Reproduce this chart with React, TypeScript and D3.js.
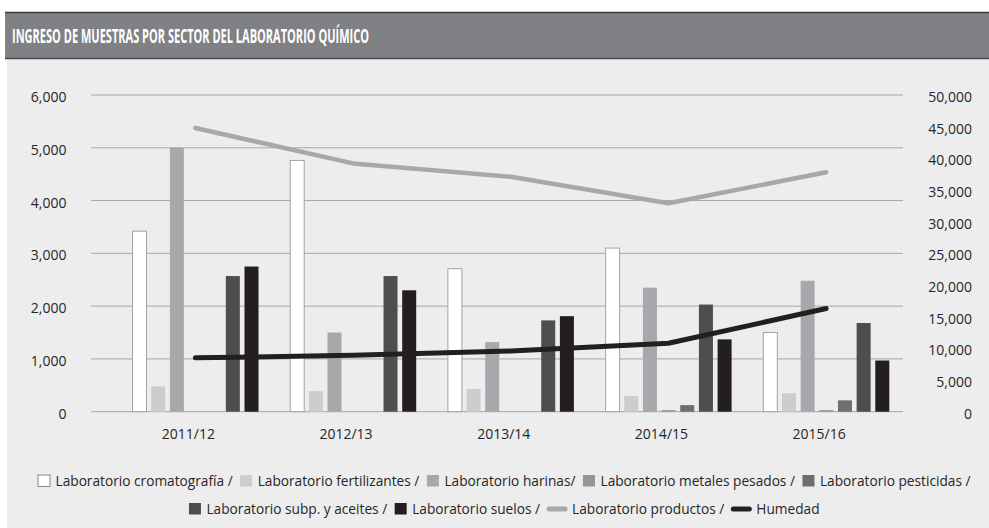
import { useEffect, useRef } from "react";
import * as d3 from "d3";

// Datos
const categories = ["2011/12", "2012/13", "2013/14", "2014/15", "2015/16"];
const cromatografia = [3420, 4760, 2710, 3100, 1500];
const fertilizantes = [480, 390, 430, 300, 350];
const harinas = [5000, 1500, 1320, 2350, 2480];
const metales = [0, 0, 0, 30, 30];
const pesticidas = [0, 0, 0, 125, 215];
const subp = [2570, 2570, 1730, 2030, 1680];
const suelos = [2750, 2300, 1810, 1370, 970];
const productos = [44800, 39200, 37100, 32900, 37800];
const humedad = [8500, 8900, 9600, 10800, 16300];

const leftTicks = [0, 1000, 2000, 3000, 4000, 5000, 6000];
const rightTicks = [0, 5000, 10000, 15000, 20000, 25000, 30000, 35000, 40000, 45000, 50000];

const barSeries = [
  { key: "cromatografia", label: "Laboratorio cromatografía /", values: cromatografia, color: "#ffffff" },
  { key: "fertilizantes", label: "Laboratorio fertilizantes /", values: fertilizantes, color: "#cdcdcf" },
  { key: "harinas", label: "Laboratorio harinas/", values: harinas, color: "#a7a8ab" },
  { key: "metales", label: "Laboratorio metales pesados /", values: metales, color: "#939598" },
  { key: "pesticidas", label: "Laboratorio pesticidas /", values: pesticidas, color: "#6d6e71" },
  { key: "subp", label: "Laboratorio subp. y aceites /", values: subp, color: "#4d4e50" },
  { key: "suelos", label: "Laboratorio suelos /", values: suelos, color: "#231f20" },
];

const lineSeries = [
  { key: "productos", label: "Laboratorio productos /", values: productos, color: "#a7a8aa", width: 4.5 },
  { key: "humedad", label: "Humedad", values: humedad, color: "#231f20", width: 5 },
];

const FONT = "'Open Sans', 'Noto Sans', sans-serif";
const TITLE_FONT = "'Liberation Sans Narrow', 'Open Sans', sans-serif";

export default function App() {
  const svgRef = useRef<SVGSVGElement>(null);

  useEffect(() => {
    if (!svgRef.current) return;
    const svg = d3.select(svgRef.current);
    svg.selectAll("*").remove();

    const W = 989;
    const H = 528;
    const top = 95;
    const bottom = 411.7;

    // Fondo y barra de título
    svg.append("rect").attr("x", 7).attr("y", 59).attr("width", W - 7).attr("height", H - 59).attr("fill", "#ededed");
    svg.append("rect").attr("x", 5).attr("y", 12).attr("width", W - 5).attr("height", 47).attr("fill", "#808184");
    svg.append("line").attr("x1", 5).attr("x2", W).attr("y1", 12.5).attr("y2", 12.5).attr("stroke", "#3c3c3e").attr("stroke-width", 1.5);
    svg.append("line").attr("x1", 5).attr("x2", W).attr("y1", 58.5).attr("y2", 58.5).attr("stroke", "#4a4a4c").attr("stroke-width", 1.5);
    svg.append("text")
      .attr("x", 12)
      .attr("y", 43)
      .attr("fill", "#ffffff")
      .style("font-family", TITLE_FONT)
      .style("font-weight", "bold")
      .style("font-size", "19px")
      .attr("textLength", 357)
      .attr("lengthAdjust", "spacingAndGlyphs")
      .text("INGRESO DE MUESTRAS POR SECTOR DEL LABORATORIO QUÍMICO");

    // Escalas
    const x0 = d3.scaleBand<string>().domain(categories).range([116.5, 905]);
    const x1 = d3
      .scaleBand<string>()
      .domain(barSeries.map((s) => s.key))
      .range([16, 142])
      .paddingInner(0.25);
    const yLeft = d3.scaleLinear().domain([0, 6000]).range([bottom, top]);
    const yRight = d3.scaleLinear().domain([0, 50000]).range([bottom, top]);

    const g = svg.append("g");

    // Rejilla
    g.selectAll(".grid")
      .data(leftTicks)
      .enter()
      .append("line")
      .attr("x1", 91)
      .attr("x2", 903)
      .attr("y1", (d) => yLeft(d))
      .attr("y2", (d) => yLeft(d))
      .attr("stroke", "#a6a6a6")
      .attr("stroke-width", 1);

    // Etiquetas eje izquierdo
    g.selectAll(".ly")
      .data(leftTicks)
      .enter()
      .append("text")
      .attr("x", 66.5)
      .attr("y", (d) => yLeft(d) + 7)
      .attr("text-anchor", "end")
      .attr("fill", "#262626")
      .style("font-family", FONT)
      .style("font-size", "14px")
      .text((d) => d3.format(",")(d));

    // Etiquetas eje derecho
    g.selectAll(".ry")
      .data(rightTicks)
      .enter()
      .append("text")
      .attr("x", 972)
      .attr("y", (d) => yRight(d) + 7)
      .attr("text-anchor", "end")
      .attr("fill", "#262626")
      .style("font-family", FONT)
      .style("font-size", "14px")
      .text((d) => d3.format(",")(d));

    // Etiquetas categorías
    g.selectAll(".cat")
      .data(categories)
      .enter()
      .append("text")
      .attr("x", (d) => (x0(d) || 0) + x0.bandwidth() / 2 - 7)
      .attr("y", 439)
      .attr("text-anchor", "middle")
      .attr("fill", "#262626")
      .style("font-family", FONT)
      .style("font-size", "14px")
      .text((d) => d);

    // Barras
    barSeries.forEach((s) => {
      g.selectAll(`.bar-${s.key}`)
        .data(categories)
        .enter()
        .filter((_, i) => s.values[i] > 0)
        .append("rect")
        .attr("x", (d) => (x0(d) || 0) + (x1(s.key) || 0))
        .attr("y", (d) => yLeft(s.values[categories.indexOf(d)]))
        .attr("width", x1.bandwidth())
        .attr("height", (d) => bottom - yLeft(s.values[categories.indexOf(d)]))
        .attr("fill", s.color)
        .attr("stroke", s.key === "cromatografia" ? "#a3a3a3" : "none")
        .attr("stroke-width", 1);
    });

    // Líneas (eje derecho)
    lineSeries.forEach((s) => {
      const line = d3
        .line<number>()
        .x((_, i) => (x0(categories[i]) || 0) + x0.bandwidth() / 2)
        .y((d) => yRight(d));
      g.append("path")
        .datum(s.values)
        .attr("d", line)
        .attr("fill", "none")
        .attr("stroke", s.color)
        .attr("stroke-width", s.width)
        .attr("stroke-linecap", "round")
        .attr("stroke-linejoin", "round");
    });

    // Leyenda
    type Item = { label: string; color: string; kind: "rect" | "line"; stroke?: string };
    const items: Item[] = [
      ...barSeries.map((s) => ({
        label: s.label,
        color: s.color,
        kind: "rect" as const,
        stroke: s.key === "cromatografia" ? "#8a8a8a" : undefined,
      })),
      ...lineSeries.map((s) => ({ label: s.label, color: s.color, kind: "line" as const })),
    ];
    const rows = [items.slice(0, 5), items.slice(5)];
    const rowY = [481, 509];
    const centerX = 504;

    rows.forEach((row, r) => {
      const rg = svg.append("g");
      let cx = 0;
      row.forEach((it) => {
        const symW = it.kind === "rect" ? 13 : 20;
        if (it.kind === "rect") {
          rg.append("rect")
            .attr("x", cx + 0.5)
            .attr("y", rowY[r] - 6)
            .attr("width", symW - 1)
            .attr("height", 11.5)
            .attr("fill", it.color)
            .attr("stroke", it.stroke || "none");
        } else {
          rg.append("line")
            .attr("x1", cx + 2)
            .attr("x2", cx + symW - 2)
            .attr("y1", rowY[r])
            .attr("y2", rowY[r])
            .attr("stroke", it.color)
            .attr("stroke-width", 5)
            .attr("stroke-linecap", "round");
        }
        const t = rg
          .append("text")
          .attr("x", cx + symW + 5)
          .attr("y", rowY[r] + 5)
          .attr("fill", "#262626")
          .style("font-family", FONT)
          .style("font-size", "13.7px")
          .text(it.label);
        const tw = (t.node() as SVGTextElement).getComputedTextLength();
        cx += symW + 5 + tw + 7;
      });
      const total = cx - 7;
      rg.attr("transform", `translate(${centerX - total / 2},0)`);
    });
  }, []);

  return (
    <div style={{ position: "absolute", left: 0, top: 0 }}>
      <svg ref={svgRef} width={989} height={528} style={{ display: "block" }} />
    </div>
  );
}
